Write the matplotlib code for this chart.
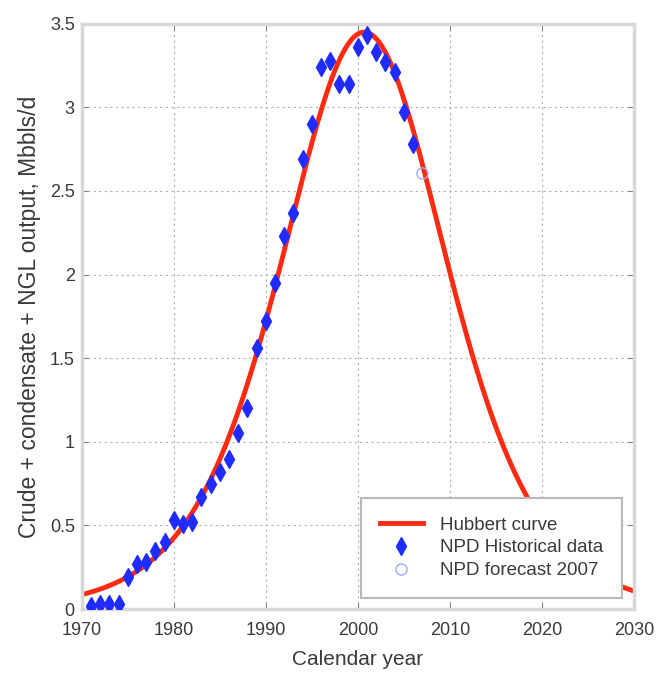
import matplotlib.pyplot as plt
import numpy as np

plt.rcParams['font.family'] = ['Liberation Sans', 'DejaVu Sans']

# NPD historical output, Mbbl/d
hist_years = np.arange(1971, 2007)
hist_output = [0.02, 0.03, 0.03, 0.03, 0.19, 0.27, 0.28, 0.35, 0.40, 0.53,
               0.51, 0.52, 0.67, 0.75, 0.82, 0.90, 1.05, 1.20, 1.56, 1.72,
               1.95, 2.23, 2.37, 2.69, 2.90, 3.24, 3.28, 3.14, 3.14, 3.36,
               3.43, 3.33, 3.27, 3.21, 2.97, 2.78]

# NPD forecast 2007
fc_years = [2007]
fc_output = [2.61]

# Hubbert curve parameters
peak_output = 3.45
peak_year = 2000.7
steepness = 0.165

t = np.linspace(1970, 2030, 400)
hubbert = 2 * peak_output / (1 + np.cosh(steepness * (t - peak_year)))

fig = plt.figure(figsize=(6.59, 6.79), dpi=100)
ax = fig.add_axes([0.124, 0.103, 0.838, 0.862])

ax.plot(t, hubbert, color='#ff2a10', lw=3.5, label='Hubbert curve', zorder=2)
ax.plot(hist_years, hist_output, 'd', color='#1f2cff', markersize=9,
        label='NPD Historical data', zorder=3)
ax.plot(fc_years, fc_output, 'o', mfc='none', mec='#a0a8ff', markersize=8,
        label='NPD forecast 2007', zorder=3)

ax.set_xlim(1970, 2030)
ax.set_ylim(0, 3.5)
ax.set_xticks(np.arange(1970, 2031, 10))
ax.set_yticks(np.arange(0, 3.51, 0.5))
ax.set_yticklabels(['0', '0.5', '1', '1.5', '2', '2.5', '3', '3.5'])
ax.grid(True, linestyle=(0, (2, 3)), color='#b0b0b0', lw=0.8)
ax.tick_params(direction='in', top=True, right=True, length=4,
               color='#808080', labelsize=13, labelcolor='#3a3a3a')
ax.tick_params(axis='x', pad=9)
ax.tick_params(axis='y', pad=5)
for s in ax.spines.values():
    s.set_color('#d8d8d8')
    s.set_linewidth(2.5)

ax.set_xlabel('Calendar year', fontsize=15, color='#3a3a3a', labelpad=8)
ax.set_ylabel('Crude + condensate + NGL output, Mbbls/d', fontsize=16.5,
              color='#3a3a3a', labelpad=6)

leg = ax.legend(loc='lower right', bbox_to_anchor=(0.978, 0.019),
                borderaxespad=0, fancybox=False, framealpha=1,
                edgecolor='#b8b8b8', fontsize=13.5, handlelength=2.3,
                borderpad=1.0, labelspacing=0.3, handletextpad=0.9)
leg.get_frame().set_linewidth(1.5)
for txt in leg.get_texts():
    txt.set_color('#3a3a3a')

fig.savefig('out.png')
